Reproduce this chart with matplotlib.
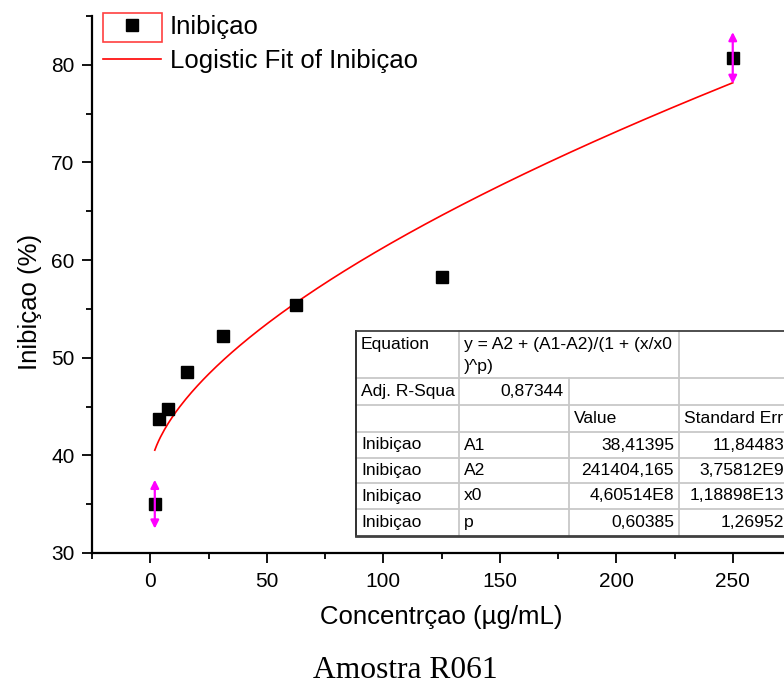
import numpy as np
import matplotlib
matplotlib.use("Agg")
import matplotlib.pyplot as plt
from matplotlib.lines import Line2D
from matplotlib.patches import Rectangle

plt.rcParams['font.family'] = ['Liberation Sans', 'DejaVu Sans']

# measured points
conc = [1.95, 3.9, 7.8, 15.6, 31.25, 62.5, 125, 250]
inib = [35.0, 43.7, 44.7, 48.5, 52.2, 55.4, 58.3, 80.7]

# error bars only shown on first and last point
err_x = [1.95, 250]
err_y = [35.0, 80.7]
err_d = [2.5, 2.65]

# logistic fit parameters (from the table)
A1 = 38.41395
A2 = 241404.165
x0 = 4.60514e8
p = 0.60385

xticks = [0, 50, 100, 150, 200, 250]
yticks = [30, 40, 50, 60, 70, 80]

# table contents
tab_params = ["A1", "A2", "x0", "p"]
tab_values = ["38,41395", "241404,165", "4,60514E8", "0,60385"]
tab_errors = ["11,84483", "3,75812E9", "1,18898E13", "1,26952"]
adj_r2 = "0,87344"

W, H = 784, 688
fig = plt.figure(figsize=(W / 100, H / 100), dpi=100)
ax = fig.add_axes([92 / W, 1 - 553 / H, (791 - 92) / W, (553 - 16) / H])

# fit curve
fx = np.linspace(conc[0], conc[-1], 300)
fy = A2 + (A1 - A2) / (1 + (fx / x0) ** p)
ax.plot(fx, fy, color='red', lw=1.2, zorder=2)

ax.plot(conc, inib, 's', color='black', ms=9, zorder=3)

for x, y, d in zip(err_x, err_y, err_d):
    ax.annotate('', xy=(x, y + d), xytext=(x, y - d),
                arrowprops=dict(arrowstyle='<|-|>', color='magenta', lw=1.6,
                                mutation_scale=12, shrinkA=0, shrinkB=0),
                zorder=4)

ax.set_xlim(-25, 275)
ax.set_ylim(30, 85)
ax.set_xticks(xticks)
ax.set_yticks(yticks)
ax.set_xticks([-25, 25, 75, 125, 175, 225, 275], minor=True)
ax.set_yticks([35, 45, 55, 65, 75, 85], minor=True)
for s in ['top', 'right']:
    ax.spines[s].set_visible(False)
for s in ['left', 'bottom']:
    ax.spines[s].set_linewidth(1.6)
ax.tick_params(which='major', length=7.5, width=1.3, labelsize=15, pad=5)
ax.tick_params(which='minor', length=4, width=1.3)
ax.tick_params(axis='x', which='major', pad=6)

ax.set_xlabel('Concentrçao (µg/mL)', fontsize=18.5, labelpad=10)
fig.text(30 / W, 1 - 302 / H, 'Inibiçao (%)', rotation=90, fontsize=18.5,
         ha='center', va='center')
fig.text(405 / W, 1 - 670 / H, 'Amostra R061', fontsize=22.7,
         family='Liberation Serif', ha='center', va='center')

# legend
handles = [Line2D([], [], marker='s', color='black', ls='none', ms=9),
           Line2D([], [], color='red', lw=1.2)]
leg = ax.legend(handles, ['Inibiçao', 'Logistic Fit of Inibiçao'],
                loc='upper left', bbox_to_anchor=(103 / W, 1 - 15 / H),
                bbox_transform=fig.transFigure, frameon=False, fontsize=18.5,
                handlelength=2.26, handletextpad=0.35, labelspacing=0.37,
                borderpad=0, borderaxespad=0)

# overlay in pixel coordinates for the table and legend box
ov = fig.add_axes([0, 0, 1, 1], zorder=10)
ov.set_xlim(0, W)
ov.set_ylim(H, 0)
ov.axis('off')
ov.add_patch(Rectangle((103, 13), 59, 29, fill=False, ec='#ff4040', lw=1.2))

cols = [356, 459, 569, 679, 800]
rows = [331, 378, 405, 432, 458, 483, 509, 536]
ov.add_patch(Rectangle((cols[0], rows[0]), cols[-1] - cols[0], rows[-1] - rows[0],
                       fc='white', ec='none'))
grid = '#c8c8c8'
for y in rows[1:-1]:
    ov.plot([cols[0], cols[-1]], [y, y], color=grid, lw=1.3)
# vertical lines (some cells merged)
ov.plot([cols[1], cols[1]], [rows[0], rows[-1]], color=grid, lw=1.3)
ov.plot([cols[2], cols[2]], [rows[1], rows[-1]], color=grid, lw=1.3)
ov.plot([cols[3], cols[3]], [rows[0], rows[-1]], color=grid, lw=1.3)
ov.plot([cols[0], cols[0]], [rows[0], rows[-1]], color='#202020', lw=1.3)
ov.plot([cols[0], cols[-1]], [rows[0], rows[0]], color='#404040', lw=1.3)
ov.plot([cols[0], cols[-1]], [rows[-1], rows[-1]], color='#404040', lw=2)

fs = 12.6
pad = 5
ov.text(cols[0] + pad, 345, 'Equation', fontsize=fs, va='center')
ov.text(cols[1] + pad, 345, 'y = A2 + (A1-A2)/(1 + (x/x0', fontsize=fs, va='center')
ov.text(cols[1] + pad, 366, ')^p)', fontsize=fs, va='center')
ov.text(cols[0] + pad, 391.5, 'Adj. R-Squa', fontsize=fs, va='center')
ov.text(cols[2] - pad, 391.5, adj_r2, fontsize=fs, va='center', ha='right')
ov.text(cols[2] + pad, 418.5, 'Value', fontsize=fs, va='center')
ov.text(cols[3] + pad, 418.5, 'Standard Err', fontsize=fs, va='center')
for i, (pn, v, e) in enumerate(zip(tab_params, tab_values, tab_errors)):
    yc = (rows[3 + i] + rows[4 + i]) / 2
    ov.text(cols[0] + pad, yc, 'Inibiçao', fontsize=fs, va='center')
    ov.text(cols[1] + pad, yc, pn, fontsize=fs, va='center')
    ov.text(cols[3] - pad, yc, v, fontsize=fs, va='center', ha='right')
    ov.text(cols[3] + 105, yc, e, fontsize=fs, va='center', ha='right')

fig.savefig('out.png', dpi=100)
